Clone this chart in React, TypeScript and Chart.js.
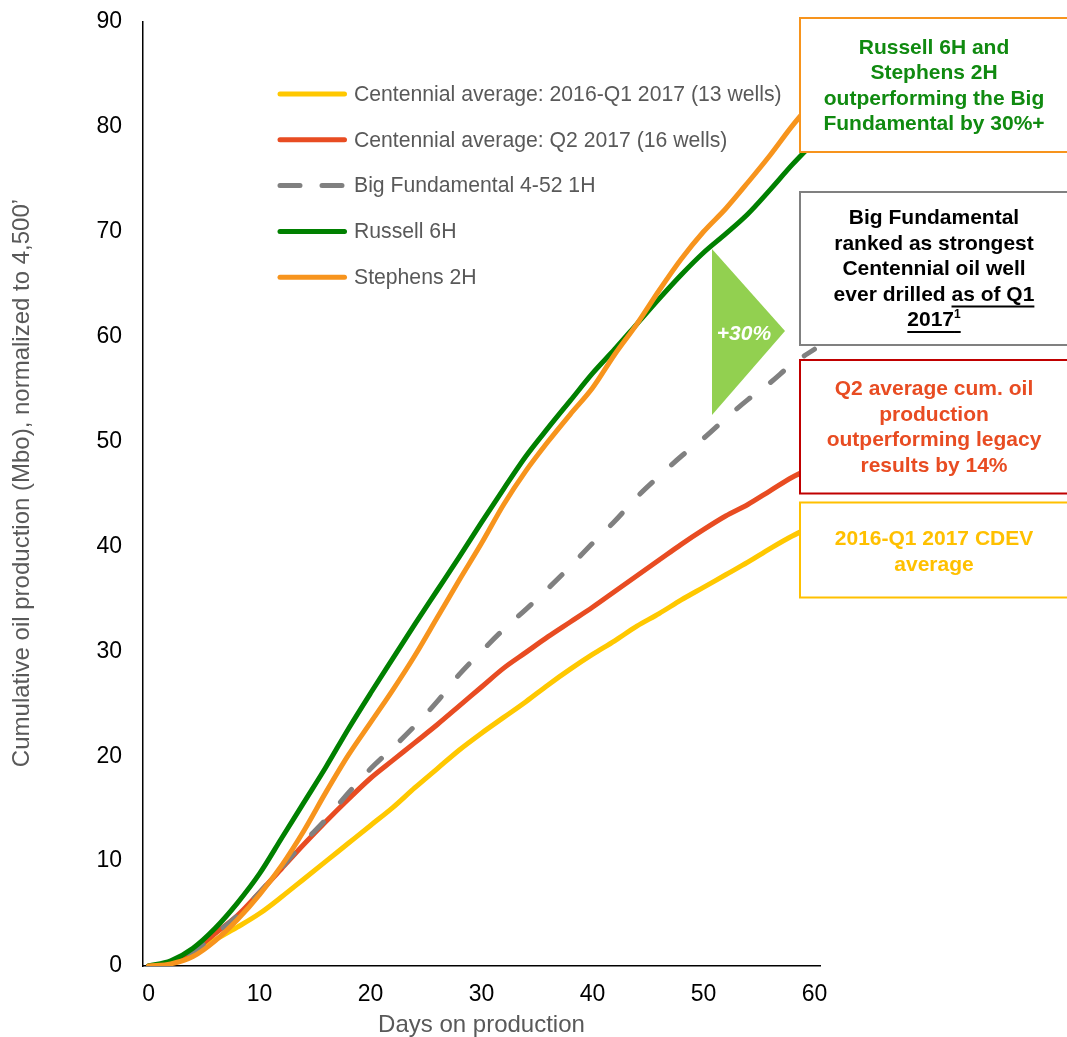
import React, { useEffect, useRef } from "react";
import { Chart, registerables } from "chart.js";

Chart.register(...registerables);

// ---------------- data ----------------
const DAYS = [0, 2, 4, 6, 8, 10, 12, 14, 16, 18, 20, 22, 24, 26, 28, 30, 32, 34, 36, 38, 40, 42, 44, 46, 48, 50, 52, 54, 56, 58, 60];

const CDEV_2016_Q1_2017 = [0, 0.3, 1.3, 2.5, 3.7, 5.0, 6.6, 8.3, 10.0, 11.7, 13.4, 15.1, 17.0, 18.8, 20.6, 22.2, 23.7, 25.2, 26.8, 28.3, 29.7, 31.0, 32.4, 33.6, 34.9, 36.1, 37.3, 38.5, 39.8, 41.0, 42.0];
const CDEV_Q2_2017 = [0, 0.3, 1.4, 3.1, 4.8, 7.0, 9.3, 11.6, 13.8, 15.9, 17.9, 19.6, 21.3, 23.0, 24.8, 26.6, 28.4, 29.9, 31.4, 32.8, 34.2, 35.7, 37.2, 38.7, 40.2, 41.6, 42.9, 44.0, 45.3, 46.6, 47.6];
const BIG_FUNDAMENTAL = [0, 0.3, 1.3, 3.0, 4.8, 7.0, 9.4, 11.8, 14.0, 16.5, 18.8, 20.8, 22.9, 25.2, 27.8, 30.0, 32.1, 34.0, 36.0, 38.1, 40.3, 42.4, 44.7, 46.7, 48.6, 50.3, 52.2, 54.0, 55.6, 57.4, 58.8];
const RUSSELL_6H = [0, 0.5, 1.7, 3.6, 6.0, 8.8, 12.2, 15.6, 19.0, 22.6, 26.0, 29.3, 32.6, 35.8, 39.0, 42.3, 45.5, 48.6, 51.3, 53.9, 56.5, 58.8, 61.2, 63.6, 65.9, 68.0, 69.8, 71.7, 74.0, 76.4, 78.6];
const STEPHENS_2H = [0, 0.2, 0.9, 2.4, 4.4, 6.8, 9.6, 12.9, 16.6, 20.1, 23.2, 26.3, 29.6, 33.2, 36.8, 40.3, 44.0, 47.2, 50.0, 52.6, 55.1, 58.3, 61.2, 64.4, 67.4, 70.0, 72.2, 74.7, 77.3, 80.1, 82.6];

const SERIES_LABELS = [
  "Centennial average: 2016-Q1 2017 (13 wells)",
  "Centennial average: Q2 2017 (16 wells)",
  "Big Fundamental 4-52 1H",
  "Russell 6H",
  "Stephens 2H",
];

const X_TICKS = [0, 10, 20, 30, 40, 50, 60];
const Y_TICKS = [0, 10, 20, 30, 40, 50, 60, 70, 80, 90];

const X_TITLE = "Days on production";
const Y_TITLE = "Cumulative oil production (Mbo), normalized to 4,500\u2019";

// ---------------- styles ----------------
const W = 1067;
const H = 1037;
const FONT = "'Liberation Sans', Arial, Helvetica, sans-serif";
const YELLOW = "#FFC800";
const RED = "#E84C22";
const GREY = "#808080";
const GREEN = "#008000";
const ORANGE = "#F7941D";
const TEXT_GREY = "#595959";

const SERIES_STYLE = [
  { color: YELLOW, dash: [] as number[], order: 4 },
  { color: RED, dash: [] as number[], order: 3 },
  { color: GREY, dash: [17, 26], order: 2 },
  { color: GREEN, dash: [] as number[], order: 1 },
  { color: ORANGE, dash: [] as number[], order: 0 },
];
const SERIES_VALUES = [CDEV_2016_Q1_2017, CDEV_Q2_2017, BIG_FUNDAMENTAL, RUSSELL_6H, STEPHENS_2H];

type Seg = { t: string; u?: boolean; sup?: boolean };
type Box = { top: number; bottom: number; border: string; color: string; y0: number; lines: Seg[][] };

const BOX_LEFT = 800;
const BOX_CX = 934;
const LINE_H = 25.5;
const BOXES: Box[] = [
  {
    top: 18, bottom: 152, border: ORANGE, color: "#108A10", y0: 48,
    lines: [[{ t: "Russell 6H and" }], [{ t: "Stephens 2H" }], [{ t: "outperforming the Big" }], [{ t: "Fundamental by 30%+" }]],
  },
  {
    top: 192, bottom: 345, border: GREY, color: "#000000", y0: 218.5,
    lines: [
      [{ t: "Big Fundamental" }],
      [{ t: "ranked as strongest" }],
      [{ t: "Centennial oil well" }],
      [{ t: "ever drilled " }, { t: "as of Q1", u: true }],
      [{ t: "2017", u: true }, { t: "1", u: true, sup: true }],
    ],
  },
  {
    top: 360, bottom: 493.5, border: "#C00000", color: RED, y0: 389.5,
    lines: [[{ t: "Q2 average cum. oil" }], [{ t: "production" }], [{ t: "outperforming legacy" }], [{ t: "results by 14%" }]],
  },
  {
    top: 502.5, bottom: 597.5, border: "#FFC000", color: "#FFC000", y0: 539.5,
    lines: [[{ t: "2016-Q1 2017 CDEV" }], [{ t: "average" }]],
  },
];

const LEGEND_X0 = 280;
const LEGEND_X1 = 344.5;
const LEGEND_TEXT_X = 354;
const LEGEND_Y0 = 94;
const LEGEND_DY = 45.8;

const annotationPlugin = {
  id: "annotations",
  afterDraw(chart: any) {
    const ctx: CanvasRenderingContext2D = chart.ctx;
    ctx.save();

    // y-axis title
    ctx.save();
    ctx.translate(22, 483);
    ctx.rotate(-Math.PI / 2);
    ctx.font = `24px ${FONT}`;
    ctx.fillStyle = TEXT_GREY;
    ctx.textAlign = "center";
    ctx.textBaseline = "middle";
    ctx.fillText(Y_TITLE, 0, 0);
    ctx.restore();

    // legend
    chart.data.datasets.forEach((ds: any, i: number) => {
      const y = LEGEND_Y0 + i * LEGEND_DY;
      ctx.beginPath();
      ctx.strokeStyle = ds.borderColor;
      ctx.lineWidth = 5;
      ctx.lineCap = "round";
      ctx.setLineDash(ds.borderDash && ds.borderDash.length ? [20, 22] : []);
      ctx.moveTo(LEGEND_X0, y);
      ctx.lineTo(LEGEND_X1, y);
      ctx.stroke();
      ctx.setLineDash([]);
      ctx.font = `21.2px ${FONT}`;
      ctx.fillStyle = TEXT_GREY;
      ctx.textAlign = "left";
      ctx.textBaseline = "middle";
      ctx.fillText(ds.label, LEGEND_TEXT_X, y + 1);
    });

    // green +30% triangle
    ctx.beginPath();
    ctx.moveTo(712, 249);
    ctx.lineTo(785, 331);
    ctx.lineTo(712, 415);
    ctx.closePath();
    ctx.fillStyle = "#92D050";
    ctx.fill();
    ctx.font = `italic bold 21px ${FONT}`;
    ctx.fillStyle = "#FFFFFF";
    ctx.textAlign = "center";
    ctx.textBaseline = "middle";
    ctx.fillText("+30%", 744, 334);

    // annotation boxes
    BOXES.forEach((b) => {
      ctx.fillStyle = "#FFFFFF";
      ctx.fillRect(BOX_LEFT, b.top, W + 10 - BOX_LEFT, b.bottom - b.top);
      ctx.strokeStyle = b.border;
      ctx.lineWidth = 2;
      ctx.strokeRect(BOX_LEFT, b.top, W + 10 - BOX_LEFT, b.bottom - b.top);
      ctx.fillStyle = b.color;
      ctx.textAlign = "left";
      ctx.textBaseline = "middle";
      b.lines.forEach((segs, li) => {
        const y = b.y0 + li * LINE_H;
        const widths = segs.map((s) => {
          ctx.font = s.sup ? `bold 12px ${FONT}` : `bold 21px ${FONT}`;
          return ctx.measureText(s.t).width;
        });
        const total = widths.reduce((a, c) => a + c, 0);
        let x = BOX_CX - total / 2;
        segs.forEach((s, si) => {
          ctx.font = s.sup ? `bold 12px ${FONT}` : `bold 21px ${FONT}`;
          ctx.fillText(s.t, x, s.sup ? y - 6 : y);
          if (s.u) {
            ctx.fillRect(x, y + 10.5, widths[si], 2);
          }
          x += widths[si];
        });
      });
    });

    ctx.restore();
  },
};

export default function App() {
  const ref = useRef<HTMLCanvasElement>(null);

  useEffect(() => {
    if (!ref.current) return;
    const datasets = SERIES_LABELS.map((label, i) => ({
      label,
      data: DAYS.map((d, j) => ({ x: d, y: SERIES_VALUES[i][j] })),
      borderColor: SERIES_STYLE[i].color,
      backgroundColor: SERIES_STYLE[i].color,
      borderWidth: 5,
      borderDash: SERIES_STYLE[i].dash,
      borderCapStyle: "round" as const,
      borderJoinStyle: "round" as const,
      pointRadius: 0,
      pointHoverRadius: 0,
      cubicInterpolationMode: "monotone" as const,
      fill: false,
      order: SERIES_STYLE[i].order,
    }));

    const chart = new Chart(ref.current, {
      type: "line",
      data: { datasets },
      options: {
        responsive: false,
        animation: false,
        devicePixelRatio: 1,
        layout: { padding: { left: 0, top: 22, right: W - 820, bottom: 0 } },
        plugins: { legend: { display: false }, tooltip: { enabled: false } },
        scales: {
          x: {
            type: "linear",
            min: -0.5,
            max: 60.5,
            afterBuildTicks: (s: any) => {
              s.ticks = X_TICKS.map((v) => ({ value: v }));
            },
            afterFit: (s: any) => {
              s.height = 71;
              s.paddingLeft = 0;
              s.paddingRight = 0;
              s.paddingTop = 0;
              s.paddingBottom = 0;
            },
            grid: { display: false, drawTicks: false },
            border: { display: true, color: "#000000", width: 1.5 },
            ticks: { font: { family: FONT, size: 23 }, color: "#000000", padding: 15, maxRotation: 0, autoSkip: false },
            title: { display: true, text: X_TITLE, color: TEXT_GREY, font: { family: FONT, size: 24, lineHeight: 1 }, padding: 0 },
          },
          y: {
            type: "linear",
            min: 0,
            max: 90,
            afterBuildTicks: (s: any) => {
              s.ticks = Y_TICKS.map((v) => ({ value: v }));
            },
            afterFit: (s: any) => {
              s.width = 143;
              s.paddingLeft = 0;
              s.paddingRight = 0;
              s.paddingTop = 0;
              s.paddingBottom = 0;
            },
            grid: { display: false, drawTicks: false },
            border: { display: true, color: "#000000", width: 1.5 },
            ticks: { font: { family: FONT, size: 23 }, color: "#000000", padding: 21 },
          },
        },
      },
      plugins: [annotationPlugin],
    });
    return () => chart.destroy();
  }, []);

  return (
    <div style={{ position: "absolute", left: 0, top: 0, width: W, height: H, background: "#FFFFFF", overflow: "hidden" }}>
      <canvas ref={ref} width={W} height={H} style={{ display: "block", width: W, height: H }} />
    </div>
  );
}
